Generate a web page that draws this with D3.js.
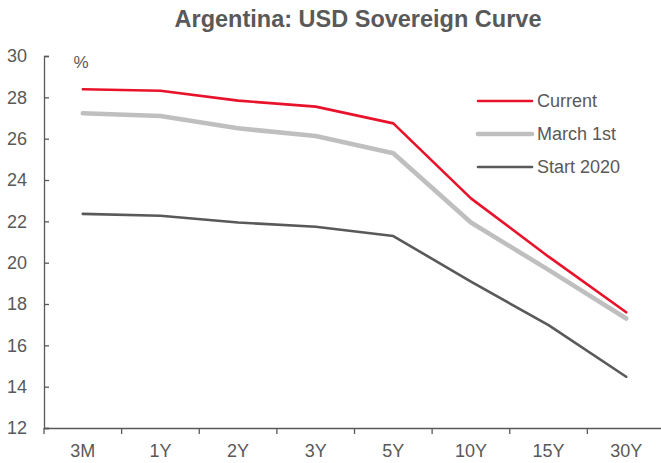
<!DOCTYPE html>
<html>
<head>
<meta charset="utf-8">
<script src="https://cdn.jsdelivr.net/npm/d3@7"></script>
<style>
  body { margin: 0; background: #fff; }
  text { font-family: "Liberation Sans", Arial, sans-serif; fill: #595959; }
</style>
</head>
<body>
<div class="chart"></div>
<script>
const tenors = ["3M", "1Y", "2Y", "3Y", "5Y", "10Y", "15Y", "30Y"]
const current = [28.39, 28.32, 27.84, 27.55, 26.74, 23.11, 20.29, 17.6]
const march1st = [27.23, 27.1, 26.5, 26.13, 25.29, 21.94, 19.65, 17.3]
const start2020 = [22.36, 22.27, 21.94, 21.74, 21.29, 19.08, 16.98, 14.48]
const yTicks = [12, 14, 16, 18, 20, 22, 24, 26, 28, 30]
const seriesNames = ["Current", "March 1st", "Start 2020"]

const colors = {
  red: "#E8132B",
  grey: "#BFBFBF",
  dark: "#595959",
  text: "#595959"
}

const dims = { width: 661, height: 463 }

const series = [
  { name: seriesNames[0], values: current, color: colors.red, width: 2.6 },
  { name: seriesNames[1], values: march1st, color: colors.grey, width: 4.6 },
  { name: seriesNames[2], values: start2020, color: colors.dark, width: 2.6 }
]

const xScale = d3.scaleBand()
  .domain(tenors)
  .range([44, 665])

const yScale = d3.scaleLinear()
  .domain([12, 30])
  .range([428, 56])

const svg = d3.select(".chart").append("svg")
  .attr("width", dims.width)
  .attr("height", dims.height)

// title
svg.append("text")
  .attr("x", 358)
  .attr("y", 27)
  .attr("text-anchor", "middle")
  .style("font-size", "23.5px")
  .style("font-weight", "bold")
  .text("Argentina:  USD Sovereign Curve")

// y axis
const yAxis = d3.axisLeft(yScale)
  .tickValues(yTicks)
  .tickSize(-5)
  .tickPadding(17)

svg.append("g")
  .attr("transform", "translate(44,0)")
  .call(yAxis)
  .call(g => g.select(".domain").attr("stroke", colors.text).attr("stroke-width", 1.3))
  .call(g => g.selectAll(".tick line").attr("stroke", colors.text).attr("stroke-width", 1.3))
  .call(g => g.selectAll(".tick text")
    .attr("fill", colors.text)
    .style("font-size", "18px")
    .style("font-family", "Liberation Sans, Arial, sans-serif"))

svg.append("text")
  .attr("x", 81)
  .attr("y", 68)
  .attr("text-anchor", "middle")
  .style("font-size", "17px")
  .text("%")

// x axis
const xAxis = d3.axisBottom(xScale)
  .tickSize(0)
  .tickPadding(16)

svg.append("g")
  .attr("transform", "translate(0,428)")
  .call(xAxis)
  .call(g => g.select(".domain").attr("stroke", colors.text).attr("stroke-width", 1.3))
  .call(g => g.selectAll(".tick text")
    .attr("fill", colors.text)
    .style("font-size", "18px")
    .style("font-family", "Liberation Sans, Arial, sans-serif"))

// category boundary ticks
svg.append("g")
  .selectAll("line")
  .data(tenors)
  .join("line")
    .attr("x1", d => xScale(d))
    .attr("x2", d => xScale(d))
    .attr("y1", 428)
    .attr("y2", 434)
    .attr("stroke", colors.text)
    .attr("stroke-width", 1.3)

// lines
const lineGenerator = d3.line()
  .x((d, i) => xScale(tenors[i]) + xScale.bandwidth() / 2)
  .y(d => yScale(d))

svg.append("g")
  .selectAll("path")
  .data(series.slice().reverse())
  .join("path")
    .attr("d", d => lineGenerator(d.values))
    .attr("fill", "none")
    .attr("stroke", d => d.color)
    .attr("stroke-width", d => d.width)
    .attr("stroke-linejoin", "round")
    .attr("stroke-linecap", "round")

// legend
const legend = svg.append("g")
  .selectAll("g")
  .data(series)
  .join("g")
    .attr("transform", (d, i) => `translate(478, ${101 + i * 33})`)

legend.append("line")
  .attr("x1", 0)
  .attr("x2", 54)
  .attr("stroke", d => d.color)
  .attr("stroke-width", d => d.width)
  .attr("stroke-linecap", "round")

legend.append("text")
  .attr("x", 59)
  .attr("dy", "0.35em")
  .style("font-size", "18px")
  .text(d => d.name)
</script>
</body>
</html>
